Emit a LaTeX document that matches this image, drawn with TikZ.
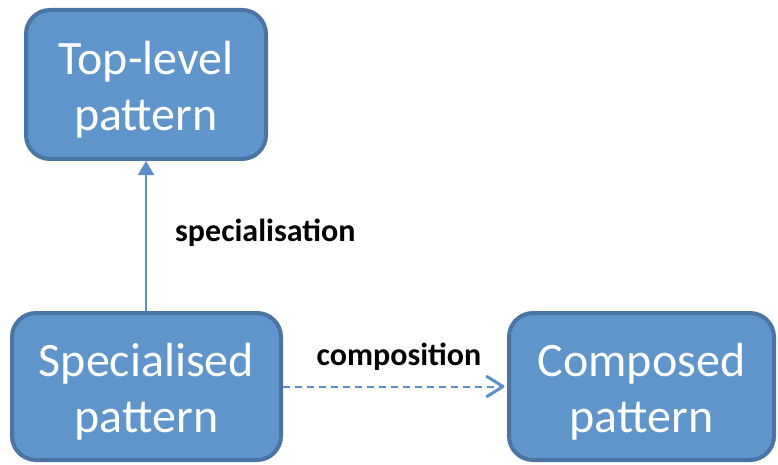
\documentclass[tikz,border=0pt]{standalone}
\usepackage{fontspec}
\setmainfont{Carlito}
\usetikzlibrary{arrows.meta}
\definecolor{boxfill}{HTML}{5F95CA}
\definecolor{boxline}{HTML}{4A74A3}
\definecolor{linkcol}{HTML}{5A8FCC}
\tikzset{
  pattbox/.style={draw=boxline, fill=boxfill, line width=4pt, rounded corners=24pt,
    text=white, align=center, inner sep=0pt,
    font=\fontsize{48}{56}\selectfont},
  linklabel/.style={font=\fontsize{32}{36}\selectfont\bfseries, text=black, inner sep=0pt},
  speclink/.style={draw=linkcol, line width=2pt, -{Triangle[width=16pt,length=14pt]}},
  complink/.style={draw=linkcol, line width=2pt, dash pattern=on 7pt off 5pt},
  openhead/.style={draw=linkcol, line width=3pt, line cap=round, line join=round},
}
\begin{document}
\begin{tikzpicture}[x=1pt,y=-1pt]
  \useasboundingbox (0,0) rectangle (778,465);
  % pattern boxes
  \node[pattbox, minimum width=240pt, minimum height=149pt] (top) at (146,84.5) {};
  \node[pattbox, minimum width=269pt, minimum height=147pt] (spec) at (146.5,386.5) {};
  \node[pattbox, minimum width=265pt, minimum height=147pt] (comp) at (641.5,386.5) {};
  % box captions, set a little below the box centres
  \node[pattbox, draw=none, fill=none] (toptext) at ([yshift=-5pt]top.center) {Top-level\\pattern};
  \node[pattbox, draw=none, fill=none] (spectext) at ([yshift=-5pt]spec.center) {Specialised\\pattern};
  \node[pattbox, draw=none, fill=none] (comptext) at ([yshift=-5pt]comp.center) {Composed\\pattern};
  % relations
  \draw[speclink] (spec.north -| top.south) -- (top.south);
  \coordinate (comptip) at ([xshift=-4pt]comp.west);
  \draw[complink] (spec.east) -- (comptip);
  \draw[openhead] ([shift={(-16,-10)}]comptip) -- (comptip) -- ([shift={(-16,10)}]comptip);
  % labels
  \node[linklabel, anchor=west] (speclabel) at (175,233) {specialisation};
  \node[linklabel] (complabel) at (399,357) {composition};
\end{tikzpicture}
\end{document}
